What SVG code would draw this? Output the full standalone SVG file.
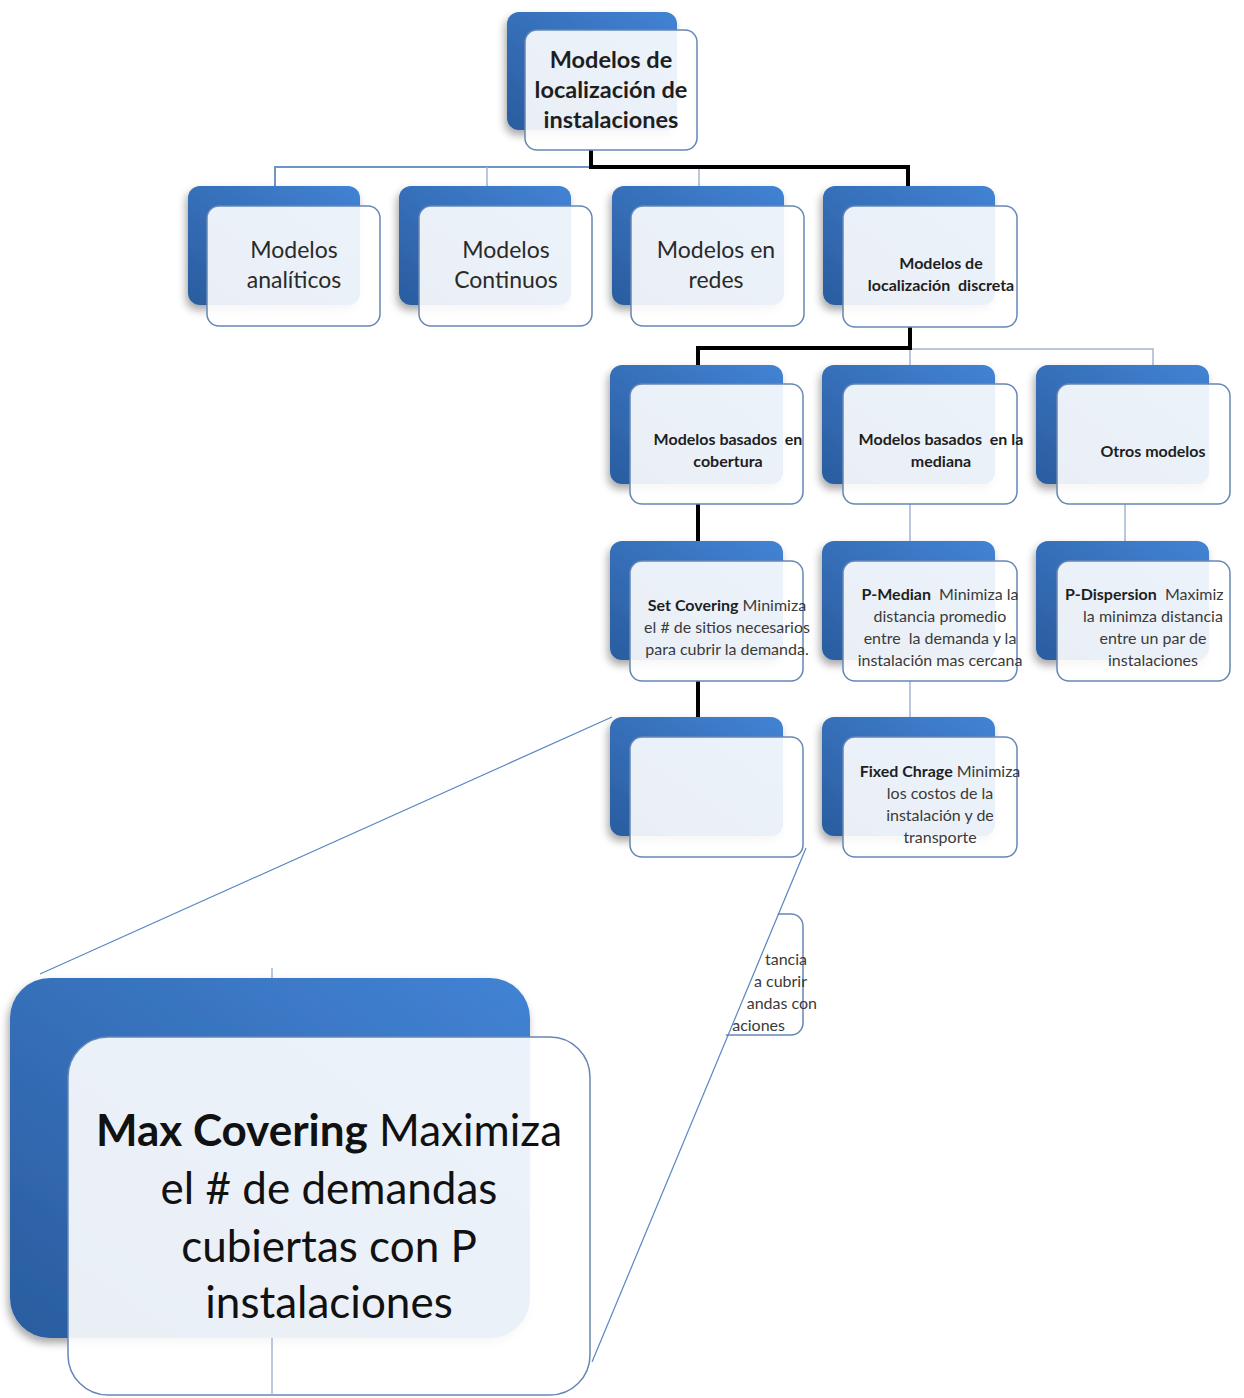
<svg xmlns="http://www.w3.org/2000/svg" width="1244" height="1398" viewBox="0 0 1244 1398">
<defs>
<linearGradient id="gb" x1="1" y1="0" x2="0" y2="1">
<stop offset="0" stop-color="#4283d4"/>
<stop offset="1" stop-color="#2a5c9f"/>
</linearGradient>
<filter id="sh" x="-20%" y="-20%" width="140%" height="150%">
<feDropShadow dx="-2" dy="5" stdDeviation="4" flood-color="#000" flood-opacity="0.35"/>
</filter>
<clipPath id="cut"><polygon points="806,848 1000,848 1000,1100 698,1100"/></clipPath>
<style>
.back{fill:url(#gb);filter:url(#sh)}
.front{fill:#fff;fill-opacity:0.9;stroke:#6686b5;stroke-width:1.5}
.thin{stroke:#a3b6cf;stroke-width:1.5;fill:none}
.thinb{stroke:#6f95c6;stroke-width:2;fill:none}
.thick{stroke:#000;stroke-width:4;fill:none}
.call{stroke:#5a86c2;stroke-width:1.2;fill:none}
text{font-family:Lato,"Liberation Sans",sans-serif;text-anchor:middle;white-space:pre}
.t22{font-size:23px;fill:#2a2a2a}
.b22{font-size:23.5px;font-weight:bold;fill:#1e1e1e}
.b15{font-size:16px;font-weight:bold;fill:#1e1e1e}
.r15{font-size:16px;fill:#3a3a3a}
.big{font-size:44px;fill:#111}
</style>
</defs>

<g id="connectors">
<polyline class="thinb" points="275,186 275,167 908,167"/>
<line class="thin" x1="487" y1="167" x2="487" y2="186"/>
<line class="thin" x1="699" y1="167" x2="699" y2="186"/>
<polyline class="thick" points="591,150 591,167 908,167 908,186"/>
<polyline class="thin" points="910,349 1153,349 1153,366"/>
<line class="thin" x1="910" y1="349" x2="910" y2="366"/>
<polyline class="thick" points="910,327 910,348 698,348 698,366"/>
<line class="thick" x1="698" y1="504" x2="698" y2="542"/>
<line class="thick" x1="698" y1="681" x2="698" y2="718"/>
<line class="thin" x1="910" y1="504" x2="910" y2="542"/>
<line class="thin" x1="910" y1="681" x2="910" y2="718"/>
<line class="thin" x1="1125" y1="504" x2="1125" y2="542"/>
<line class="thin" x1="272" y1="968" x2="272" y2="978"/>
</g>

<g id="n-root">
<rect class="back" x="507" y="12" width="170" height="118" rx="12"/>
<rect class="front" x="525" y="30" width="172" height="120" rx="12"/>
<text class="b22" x="611" y="68">Modelos de</text>
<text class="b22" x="611" y="98">localización de</text>
<text class="b22" x="611" y="128">instalaciones</text>
</g>

<g id="n-analiticos">
<rect class="back" x="188" y="186" width="172" height="119" rx="12"/>
<rect class="front" x="207" y="206" width="173" height="120" rx="12"/>
<text class="t22" x="294" y="258">Modelos</text>
<text class="t22" x="294" y="288">analíticos</text>
</g>

<g id="n-continuos">
<rect class="back" x="399" y="186" width="172" height="119" rx="12"/>
<rect class="front" x="419" y="206" width="173" height="120" rx="12"/>
<text class="t22" x="506" y="258">Modelos</text>
<text class="t22" x="506" y="288">Continuos</text>
</g>

<g id="n-redes">
<rect class="back" x="612" y="186" width="172" height="119" rx="12"/>
<rect class="front" x="631" y="206" width="173" height="120" rx="12"/>
<text class="t22" x="716" y="258">Modelos en</text>
<text class="t22" x="716" y="288">redes</text>
</g>

<g id="n-discreta">
<rect class="back" x="823" y="186" width="172" height="119" rx="12"/>
<rect class="front" x="843" y="206" width="174" height="121" rx="12"/>
<text class="b15" x="941" y="269">Modelos de</text>
<text class="b15" x="941" y="291">localización  discreta</text>
</g>

<g id="n-cobertura">
<rect class="back" x="610" y="365" width="173" height="119" rx="12"/>
<rect class="front" x="630" y="384" width="173" height="120" rx="12"/>
<text class="b15" x="728" y="445">Modelos basados  en</text>
<text class="b15" x="728" y="467">cobertura</text>
</g>

<g id="n-mediana">
<rect class="back" x="822" y="365" width="173" height="119" rx="12"/>
<rect class="front" x="843" y="384" width="174" height="120" rx="12"/>
<text class="b15" x="941" y="445">Modelos basados  en la</text>
<text class="b15" x="941" y="467">mediana</text>
</g>

<g id="n-otros">
<rect class="back" x="1036" y="365" width="173" height="119" rx="12"/>
<rect class="front" x="1057" y="384" width="173" height="120" rx="12"/>
<text class="b15" x="1153" y="457">Otros modelos</text>
</g>

<g id="n-setcovering">
<rect class="back" x="610" y="541" width="173" height="119" rx="12"/>
<rect class="front" x="630" y="561" width="173" height="120" rx="12"/>
<text class="r15" x="727" y="611"><tspan class="b15">Set Covering</tspan> Minimiza</text>
<text class="r15" x="727" y="633">el # de sitios necesarios</text>
<text class="r15" x="727" y="655">para cubrir la demanda.</text>
</g>

<g id="n-pmedian">
<rect class="back" x="822" y="541" width="173" height="119" rx="12"/>
<rect class="front" x="843" y="561" width="174" height="120" rx="12"/>
<text class="r15" x="940" y="600"><tspan class="b15">P-Median</tspan>  Minimiza la</text>
<text class="r15" x="940" y="622">distancia promedio</text>
<text class="r15" x="940" y="644">entre  la demanda y la</text>
<text class="r15" x="940" y="666">instalación mas cercana</text>
</g>

<g id="n-pdispersion">
<rect class="back" x="1036" y="541" width="173" height="119" rx="12"/>
<rect class="front" x="1057" y="561" width="173" height="120" rx="12"/>
<text class="r15" x="1065" y="600" style="text-anchor:start"><tspan class="b15">P-Dispersion</tspan>  Maximiz</text>
<text class="r15" x="1153" y="622">la minimza distancia</text>
<text class="r15" x="1153" y="644">entre un par de</text>
<text class="r15" x="1153" y="666">instalaciones</text>
</g>

<g id="n-empty">
<rect class="back" x="610" y="717" width="173" height="119" rx="12"/>
<rect class="front" x="630" y="737" width="173" height="120" rx="12"/>
</g>

<g id="n-fixed">
<rect class="back" x="822" y="717" width="173" height="119" rx="12"/>
<rect class="front" x="843" y="737" width="174" height="120" rx="12"/>
<text class="r15" x="940" y="777"><tspan class="b15">Fixed Chrage</tspan> Minimiza</text>
<text class="r15" x="940" y="799">los costos de la</text>
<text class="r15" x="940" y="821">instalación y de</text>
<text class="r15" x="940" y="843">transporte</text>
</g>

<g id="n-partial" clip-path="url(#cut)">
<rect class="front" x="630" y="914" width="173" height="121" rx="12"/>
<text class="r15" x="807" y="965" style="text-anchor:end">tancia</text>
<text class="r15" x="807" y="987" style="text-anchor:end">a cubrir</text>
<text class="r15" x="817" y="1009" style="text-anchor:end">andas con</text>
<text class="r15" x="785" y="1031" style="text-anchor:end">aciones</text>
</g>

<g id="n-maxcovering">
<rect class="back" x="10" y="978" width="520" height="360" rx="40"/>
<rect class="front" x="68" y="1037" width="522" height="358" rx="40"/>
<line class="thin" x1="272" y1="1338" x2="272" y2="1395"/>
<text class="big" x="329" y="1146"><tspan font-weight="bold">Max Covering</tspan> Maximiza</text>
<text class="big" x="329" y="1204">el # de demandas</text>
<text class="big" x="329" y="1262">cubiertas con P</text>
<text class="big" x="329" y="1318">instalaciones</text>
</g>

<g id="callout">
<line class="call" x1="612" y1="717" x2="40" y2="974"/>
<line class="call" x1="806" y1="848" x2="592" y2="1362"/>
</g>
</svg>
